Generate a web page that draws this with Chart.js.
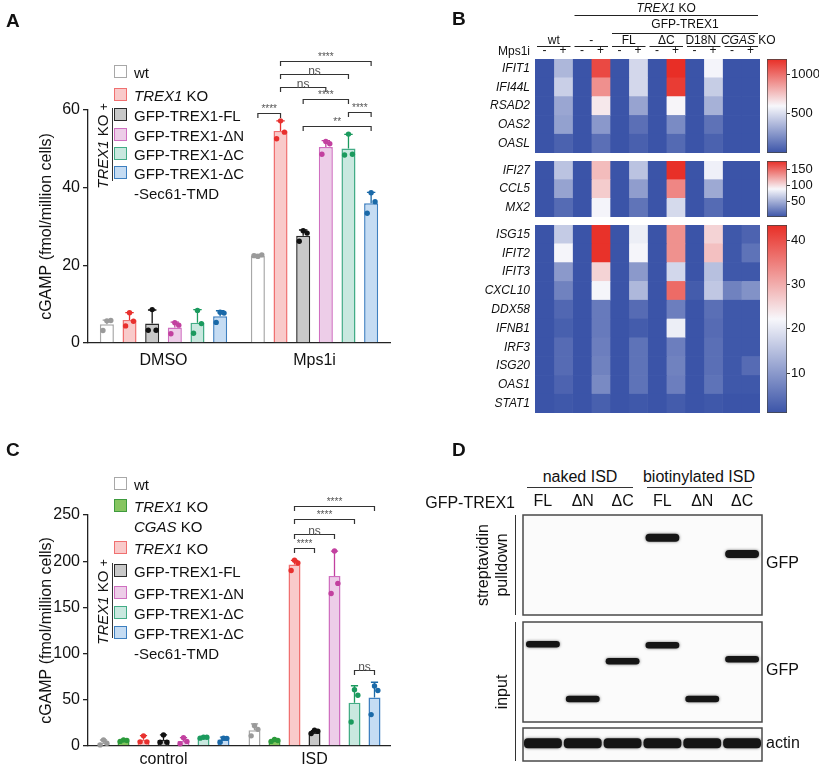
<!DOCTYPE html>
<html>
<head>
<meta charset="utf-8">
<script src="https://cdn.jsdelivr.net/npm/chart.js@4.4.1/dist/chart.umd.min.js"></script>
<style>
  html, body { margin: 0; background: #fff; }
  #fig { position: relative; width: 819px; height: 768px; overflow: hidden;
         font-family: "Liberation Sans", Arial, sans-serif; color: #111; }
  #fig canvas { position: absolute; }
  .t { position: absolute; line-height: 1; white-space: nowrap; }
  .ln { position: absolute; background: #333; }
</style>
</head>
<body>
<div id="fig">
  <canvas id="chartA" width="400" height="380" style="left:0;top:0"></canvas>
  <canvas id="chartC" width="400" height="388" style="left:0;top:380px"></canvas>
  <canvas id="heat1" width="419" height="155" style="left:400px;top:0"></canvas>
  <canvas id="heat2" width="360" height="60" style="left:400px;top:159px"></canvas>
  <canvas id="heat3" width="360" height="192" style="left:400px;top:223px"></canvas>
  <canvas id="cbar1" width="59" height="155" style="left:760px;top:0"></canvas>
  <canvas id="cbar2" width="59" height="60" style="left:760px;top:159px"></canvas>
  <canvas id="cbar3" width="59" height="192" style="left:760px;top:223px"></canvas>
  <canvas id="blotPull" width="419" height="127" style="left:400px;top:490px"></canvas>
  <canvas id="blotInput" width="419" height="108" style="left:400px;top:618px"></canvas>
  <canvas id="blotActin" width="419" height="41" style="left:400px;top:724px"></canvas>
</div>
<script>
/* ---------- data ---------- */
// A: cGAMP after DMSO / Mps1i
const groupsA = ['DMSO', 'Mps1i'];
const namesA = ['wt', 'TREX1 KO', 'GFP-TREX1-FL', 'GFP-TREX1-ΔN', 'GFP-TREX1-ΔC', 'GFP-TREX1-ΔC-Sec61-TMD'];
const legendA = [['wt'], ['<i>TREX1</i> KO'], ['GFP-TREX1-FL'], ['GFP-TREX1-ΔN'], ['GFP-TREX1-ΔC'], ['GFP-TREX1-ΔC', '-Sec61-TMD']];
const meanA = [[4.8, 22.4], [5.9, 54.6], [5.0, 27.6], [4.0, 50.5], [5.2, 50.1], [6.9, 36.0]];
const sdA = [[1.1, 0.4], [1.9, 2.6], [3.5, 1.5], [1.4, 1.6], [3.4, 3.6], [1.4, 2.8]];
const ptsA = [
  [[5.7, 5.8, 3.2], [22.3, 22.7, 22.5]],
  [[7.8, 5.6, 4.4], [57.2, 54.3, 52.6]],
  [[8.6, 3.3, 3.3], [28.9, 28.3, 26.2]],
  [[5.2, 4.6, 2.4], [51.9, 51.3, 48.6]],
  [[8.4, 5.0, 2.5], [53.8, 48.6, 48.4]],
  [[7.9, 7.7, 5.3], [38.7, 36.4, 33.4]],
];
// [series a, series b, level, mark] on the Mps1i group
const bracketsA = [[0, 1, 59.3, '****'], [1, 5, 72.7, '****'], [1, 4, 69.3, 'ns'], [1, 3, 66.0, 'ns'],
                   [2, 4, 62.9, '****'], [4, 5, 59.5, '****'], [2, 5, 55.9, '**']];

// C: cGAMP after control / ISD
const groupsC = ['control', 'ISD'];
const namesC = ['wt', 'TREX1 KO CGAS KO', 'TREX1 KO', 'GFP-TREX1-FL', 'GFP-TREX1-ΔN', 'GFP-TREX1-ΔC', 'GFP-TREX1-ΔC-Sec61-TMD'];
const legendC = [['wt'], ['<i>TREX1</i> KO', '<i>CGAS</i> KO'], ['<i>TREX1</i> KO'], ['GFP-TREX1-FL'], ['GFP-TREX1-ΔN'],
                 ['GFP-TREX1-ΔC'], ['GFP-TREX1-ΔC', '-Sec61-TMD']];
const meanC = [[3.5, 17], [5.8, 6], [6.7, 196.5], [6.5, 14.5], [5.5, 184], [9.2, 46.7], [7.0, 52.5]];
const sdC = [[3.0, 7], [0.8, 1], [4.5, 4.5], [5.5, 2], [3.5, 27], [0.6, 18.5], [2.5, 16.5]];
const ptsC = [
  [[6.5, 3.0, 1.2], [22, 18, 11]],
  [[6.5, 6.0, 5.0], [7, 6, 5]],
  [[11.0, 4.5, 4.5], [201, 198, 190]],
  [[12.0, 4.0, 4.0], [17, 16, 13.5]],
  [[9.0, 5.0, 2.5], [211, 176, 165]],
  [[9.5, 9.5, 8.5], [61, 55, 26]],
  [[8.5, 8.3, 4.0], [65, 60, 34]],
];
const bracketsC = [[2, 6, 260, '****'], [2, 5, 245.7, '****'], [2, 4, 229.5, 'ns'], [2, 3, 214.6, '****'], [5, 6, 82, 'ns']];

// B: heatmap (12 columns: condition x Mps1i -/+)
const heatCols = ['-', '+', '-', '+', '-', '+', '-', '+', '-', '+', '-', '+'];
const heatGroups = [[['wt']], [['-']], [['FL']], [['ΔC']], [['D18N']], [['CGAS', 1], [' KO']]];
const genes1 = ['IFIT1', 'IFI44L', 'RSAD2', 'OAS2', 'OASL'];
const heat1 = [
  [0, 360, 0, 1110, 0, 480, 0, 1190, 0, 585, 0, 0],
  [0, 450, 0, 900, 0, 480, 0, 1150, 0, 440, 0, 0],
  [0, 300, 0, 640, 0, 290, 0, 600, 0, 340, 0, 0],
  [0, 280, 0, 250, 0, 100, 0, 200, 0, 110, 0, 0],
  [0, 50, 0, 100, 0, 45, 0, 80, 0, 50, 0, 0],
];
const genes2 = ['IFI27', 'CCL5', 'MX2'];
const heat2 = [
  [0, 62, 0, 115, 0, 62, 0, 175, 0, 86, 0, 0],
  [0, 45, 0, 108, 0, 42, 0, 138, 0, 48, 0, 0],
  [0, 15, 0, 88, 0, 20, 0, 74, 0, 15, 0, 0],
];
const genes3 = ['ISG15', 'IFIT2', 'IFIT3', 'CXCL10', 'DDX58', 'IFNB1', 'IRF3', 'ISG20', 'OAS1', 'STAT1'];
const heat3 = [
  [1, 16.5, 1, 43, 1, 21, 1, 33, 1, 26, 1.5, 3],
  [1, 22, 1, 43, 1, 22, 1, 33, 1, 28, 1.5, 5],
  [1, 10, 1, 26, 1, 10, 1, 18, 1, 15, 1.5, 1.5],
  [1, 7, 1, 22, 1, 14, 1, 37, 2, 16, 7, 9],
  [1, 3.5, 1, 6, 1, 4, 1, 6.5, 1, 4.5, 1.5, 1.5],
  [1, 2.5, 1, 6, 1, 2, 1, 21, 1, 4, 1.5, 1.5],
  [1, 4, 1, 6.5, 1, 5, 1, 6.5, 1, 4.5, 1.5, 1.5],
  [1, 4, 1, 7, 1, 5, 1, 7, 1, 4.5, 1.5, 4],
  [1, 3, 1, 8, 1, 5, 1, 6.5, 1, 5, 1.5, 1.5],
  [1, 1.5, 1, 2.5, 1, 1.5, 1, 2, 1, 1.5, 1, 1],
];
const range1 = [0, 1190], range2 = [3, 176], range3 = [1, 43.4];
const cbTicks1 = [500, 1000], cbTicks2 = [50, 100, 150], cbTicks3 = [10, 20, 30, 40];

// D: blot lanes and band positions (% of blot height from top)
const lanes = ['FL', 'ΔN', 'ΔC', 'FL', 'ΔN', 'ΔC'];
const pulldownBands = [null, null, null, 22.7, null, 39];
const inputBands = [22.3, 77, 39.3, 23.3, 77, 37.3];
const actinBands = [46, 46, 46, 46, 46, 46];

/* ---------- styles ---------- */
const FONT = '"Liberation Sans", Arial, sans-serif';
Chart.defaults.font.family = FONT;
Chart.defaults.color = '#111';

const fillsA = ['#ffffff', '#f9caca', '#c8c8c8', '#edcde8', '#c9e8df', '#c5dcf3'];
const edgesA = ['#a8a8a8', '#f07070', '#2a2a2a', '#cf6fc0', '#43ac86', '#3d7fc0'];
const dotsA = ['#9a9a9a', '#e8302e', '#111111', '#c2409f', '#1b9a5e', '#1a69a8'];
const fillsC = ['#ffffff', '#86c560', ...fillsA.slice(1)];
const edgesC = ['#a8a8a8', '#3e9a3e', ...edgesA.slice(1)];
const dotsC = ['#9a9a9a', '#2a9a3a', ...dotsA.slice(1)];
const JIT = [0, 0.28, -0.28];
const GROUP_NUDGE = [0, 0, 0, 0, -3, 7];   // header label x shifts (px)

const BLUE = [59, 84, 168], WHITE = [247, 247, 251], RED = [232, 46, 38];
const rgb = c => `rgb(${c.map(Math.round).join(',')})`;
function heatColor(v, lo, hi) {
  const t = Math.max(0, Math.min(1, (v - lo) / (hi - lo)));
  const [a, b, u] = t < 0.5 ? [BLUE, WHITE, t / 0.5] : [WHITE, RED, (t - 0.5) / 0.5];
  return rgb(a.map((x, k) => x + (b[k] - x) * u));
}
// keep tick labels from eating into the plot area
const noLabelPad = s => { s.paddingTop = 0; s.paddingBottom = 0; s.paddingLeft = 0; s.paddingRight = 0; };

/* ---------- bar panels (A, C) ---------- */
function errorDots(o) {
  return {
    id: 'errorDots',
    afterDatasetsDraw(chart) {
      const { ctx, scales: { y } } = chart;
      ctx.save();
      ctx.lineWidth = 1.3;
      o.means.forEach((row, i) => {
        const meta = chart.getDatasetMeta(i);
        ctx.strokeStyle = ctx.fillStyle = o.dots[i];
        row.forEach((m, j) => {
          const { x, width } = meta.data[j];
          const y0 = y.getPixelForValue(m), y1 = y.getPixelForValue(m + o.sds[i][j]);
          ctx.beginPath();
          ctx.moveTo(x, y0); ctx.lineTo(x, y1);
          ctx.moveTo(x - width * 0.3, y1); ctx.lineTo(x + width * 0.3, y1);
          ctx.stroke();
          o.pts[i][j].forEach((v, k) => {
            ctx.beginPath();
            ctx.arc(x + JIT[k] * width, y.getPixelForValue(v), 2.7, 0, Math.PI * 2);
            ctx.fill();
          });
        });
      });
      ctx.restore();
    },
  };
}

// significance brackets between two bars of the second group
function sigBrackets(o) {
  return {
    id: 'sigBrackets',
    afterDraw(chart) {
      const { ctx, scales: { y } } = chart;
      ctx.save();
      ctx.strokeStyle = '#333'; ctx.lineWidth = 1.2; ctx.fillStyle = '#555';
      ctx.textAlign = 'center'; ctx.textBaseline = 'alphabetic';
      o.brackets.forEach(([a, b, level, mark]) => {
        const xa = chart.getDatasetMeta(a).data[1].x, xb = chart.getDatasetMeta(b).data[1].x;
        const yy = Math.round(y.getPixelForValue(level)) + 0.5;
        ctx.beginPath();
        ctx.moveTo(xa, yy + 4.5); ctx.lineTo(xa, yy); ctx.lineTo(xb, yy); ctx.lineTo(xb, yy + 4.5);
        ctx.stroke();
        const ns = mark === 'ns';
        ctx.font = (ns ? '12px ' : '10px ') + FONT;
        ctx.fillText(mark, (xa + xb) / 2, ns ? yy : yy - 2);
      });
      ctx.restore();
    },
  };
}

function barPanel(id, o) {
  return new Chart(document.getElementById(id), {
    type: 'bar',
    data: {
      labels: o.groups,
      datasets: o.means.map((m, i) => ({
        label: o.names[i], data: m,
        backgroundColor: o.fills[i], borderColor: o.edges[i], borderWidth: 1.5,
        barPercentage: o.barPct, categoryPercentage: o.catPct,
      })),
    },
    options: {
      responsive: false, animation: false,
      layout: { padding: { left: 37, right: 10, top: o.top, bottom: 0 } },
      plugins: { legend: { display: false }, tooltip: { enabled: false } },
      scales: {
        x: {
          grid: { display: false, drawTicks: false }, border: { color: '#222', width: 1.3 },
          ticks: { font: { size: 16 }, padding: o.xPad },
          afterFit: s => { s.height = o.xH; },
        },
        y: {
          min: 0, max: o.yMax,
          ticks: { stepSize: o.yStep, font: { size: 16 }, padding: 3 },
          grid: { drawOnChartArea: false, tickLength: 5, color: '#222', lineWidth: 1.3 },
          border: { color: '#222', width: 1.3 },
          title: { display: true, text: 'cGAMP (fmol/million cells)', font: { size: 16 }, padding: 0 },
          afterFit: s => { s.width = 51; },
        },
      },
    },
    plugins: [errorDots(o), sigBrackets(o)],
  });
}

barPanel('chartA', {
  groups: groupsA, names: namesA, means: meanA, sds: sdA, pts: ptsA, brackets: bracketsA,
  fills: fillsA, edges: edgesA, dots: dotsA,
  barPct: 0.62, catPct: 0.9, top: 110, xH: 37, xPad: 8, yMax: 60, yStep: 20,
});
barPanel('chartC', {
  groups: groupsC, names: namesC, means: meanC, sds: sdC, pts: ptsC, brackets: bracketsC,
  fills: fillsC, edges: edgesC, dots: dotsC,
  barPct: 0.6, catPct: 0.927, top: 135, xH: 22, xPad: 4, yMax: 250, yStep: 50,
});

/* ---------- heatmap (B) ---------- */
function richText(ctx, parts, cx, cy, size) {
  const fonts = parts.map(([, it]) => `${it ? 'italic ' : ''}${size}px ${FONT}`);
  const widths = parts.map(([t], k) => { ctx.font = fonts[k]; return ctx.measureText(t).width; });
  let x = cx - widths.reduce((a, b) => a + b, 0) / 2;
  ctx.textAlign = 'left'; ctx.textBaseline = 'middle';
  parts.forEach(([t], k) => { ctx.font = fonts[k]; ctx.fillText(t, x, cy); x += widths[k]; });
}

// column group labels and the TREX1 KO / GFP-TREX1 spans above the first block
const heatHeader = {
  id: 'heatHeader',
  afterDraw(chart) {
    const { ctx, chartArea: { top, left }, scales: { x } } = chart;
    ctx.save();
    ctx.strokeStyle = '#222'; ctx.lineWidth = 1; ctx.fillStyle = '#111';
    const span = (c0, c1, yText, yLine, parts, dx = 0) => {
      const x0 = x.getPixelForValue(c0) + 2, x1 = x.getPixelForValue(c1) - 2;
      ctx.beginPath(); ctx.moveTo(x0, yLine); ctx.lineTo(x1, yLine); ctx.stroke();
      richText(ctx, parts, (x0 + x1) / 2 + dx, yText, 12);
    };
    heatGroups.forEach((g, k) => span(2 * k, 2 * k + 2, top - 18, top - 12.5, g, GROUP_NUDGE[k]));
    span(4, 12, top - 34, top - 25.5, [['GFP-TREX1']]);
    span(2, 12, top - 50, top - 43.5, [['TREX1', 1], [' KO']]);
    ctx.textAlign = 'right'; ctx.textBaseline = 'middle'; ctx.font = '12px ' + FONT;
    ctx.fillText('Mps1i', left - 5, top - 7);
    ctx.restore();
  },
};

function heatmap(id, genes, values, [lo, hi], pad, header) {
  return new Chart(document.getElementById(id), {
    type: 'bar',
    data: {
      labels: genes,
      datasets: heatCols.map((c, j) => ({
        data: genes.map(() => [j, j + 1]),
        backgroundColor: values.map(row => heatColor(row[j], lo, hi)),
        borderWidth: 0, barPercentage: 1, categoryPercentage: 1, grouped: false,
      })),
    },
    options: {
      indexAxis: 'y', responsive: false, animation: false,
      layout: { padding: pad, autoPadding: false },
      plugins: { legend: { display: false }, tooltip: { enabled: false } },
      scales: {
        x: {
          type: 'linear', min: 0, max: heatCols.length, display: header, position: 'top',
          grid: { display: false, drawTicks: false }, border: { display: false },
          ticks: { font: { size: 12 }, padding: 1, callback: (v, i) => heatCols[i] },
          afterBuildTicks: s => { s.ticks = heatCols.map((c, i) => ({ value: i + 0.5 })); },
          afterFit: s => { noLabelPad(s); if (header) s.height = 14; },
        },
        y: {
          grid: { display: false, drawTicks: false }, border: { display: false },
          ticks: { font: { size: 12, style: 'italic' }, padding: 5, autoSkip: false },
          afterFit: s => { noLabelPad(s); s.width = 135; },
        },
      },
    },
    plugins: header ? [heatHeader] : [],
  });
}

heatmap('heat1', genes1, heat1, range1, { left: 0, right: 59, top: 45, bottom: 2 }, true);
heatmap('heat2', genes2, heat2, range2, { left: 0, right: 0, top: 2, bottom: 2 }, false);
heatmap('heat3', genes3, heat3, range3, { left: 0, right: 0, top: 2, bottom: 2 }, false);

function colorbar(id, [lo, hi], ticks, pad) {
  return new Chart(document.getElementById(id), {
    type: 'bar',
    data: {
      labels: [''],
      datasets: [{
        data: [[lo, hi]],
        backgroundColor: c => {
          const a = c.chart.chartArea;
          if (!a) return heatColor(lo, lo, hi);
          const g = c.chart.ctx.createLinearGradient(0, a.bottom, 0, a.top);
          g.addColorStop(0, rgb(BLUE)); g.addColorStop(0.5, rgb(WHITE)); g.addColorStop(1, rgb(RED));
          return g;
        },
        borderColor: '#444', borderWidth: 1, borderSkipped: false,
        barPercentage: 1, categoryPercentage: 1,
      }],
    },
    options: {
      responsive: false, animation: false,
      layout: { padding: { left: 7, right: 0, top: pad[0], bottom: pad[1] }, autoPadding: false },
      plugins: { legend: { display: false }, tooltip: { enabled: false } },
      scales: {
        x: { display: false, afterFit: noLabelPad },
        y: {
          position: 'right', min: lo, max: hi,
          grid: { drawOnChartArea: false, tickLength: 3, color: '#333' }, border: { display: false },
          ticks: { font: { size: 13 }, padding: 1, callback: v => String(v) },
          afterBuildTicks: s => { s.ticks = ticks.map(v => ({ value: v })); },
          afterFit: s => { noLabelPad(s); s.width = 32; },
        },
      },
    },
  });
}

colorbar('cbar1', range1, cbTicks1, [59, 2]);
colorbar('cbar2', range2, cbTicks2, [2, 2]);
colorbar('cbar3', range3, cbTicks3, [2, 2]);

/* ---------- blot (D) ---------- */
const blotFrame = {
  id: 'blotFrame',
  beforeDatasetsDraw(chart) {
    const { ctx, chartArea: a } = chart;
    ctx.fillStyle = '#fbfbfb'; ctx.fillRect(a.left, a.top, a.width, a.height);
    ctx.save(); ctx.shadowColor = 'rgba(0,0,0,0.55)'; ctx.shadowBlur = 3;
  },
  afterDatasetsDraw(chart) {
    const { ctx, chartArea: a } = chart;
    ctx.restore();
    ctx.save();
    ctx.strokeStyle = '#4a4a4a'; ctx.lineWidth = 1.5; ctx.strokeRect(a.left, a.top, a.width, a.height);
    ctx.restore();
  },
};

function blot(id, bands, half, o) {
  return new Chart(document.getElementById(id), {
    type: 'bar',
    data: {
      labels: lanes,
      datasets: [{
        data: bands.map(p => (p == null ? null : [p - half, p + half])),
        backgroundColor: '#151515', borderRadius: 4, borderSkipped: false,
        barPercentage: o.bw, categoryPercentage: 1,
      }],
    },
    options: {
      responsive: false, animation: false,
      layout: { padding: { left: 123, right: 57, top: o.top, bottom: o.bottom }, autoPadding: false },
      plugins: { legend: { display: false }, tooltip: { enabled: false } },
      scales: {
        x: {
          display: !!o.header, position: 'top',
          grid: { display: false, drawTicks: false }, border: { display: false },
          ticks: { font: { size: 16 }, padding: 4 },
          afterFit: s => { if (o.header) s.height = 25; },
        },
        y: { display: false, reverse: true, min: 0, max: 100 },
      },
    },
    plugins: [blotFrame],
  });
}

blot('blotPull', pulldownBands, 4, { bw: 0.85, top: 0, bottom: 2, header: true });
blot('blotInput', inputBands, 3.3, { bw: 0.85, top: 4, bottom: 4 });
blot('blotActin', actinBands, 15, { bw: 0.95, top: 4, bottom: 4 });

/* ---------- text, legends, labels ---------- */
const fig = document.getElementById('fig');
function text(x, y, html, size, anchor = 'l', extra = '') {
  const d = document.createElement('div');
  d.className = 't'; d.innerHTML = html;
  d.style.left = x + 'px'; d.style.top = y + 'px'; d.style.fontSize = size + 'px';
  d.style.transform = `translate(${{ l: '0', c: '-50%', r: '-100%' }[anchor]},-50%) ${extra}`;
  fig.appendChild(d);
}
function line(x, y, w, h) {
  const d = document.createElement('div');
  d.className = 'ln';
  d.style.cssText += `left:${x}px;top:${y}px;width:${w}px;height:${h}px`;
  fig.appendChild(d);
}
function legendBlock(rows, ys, fills, edges) {
  rows.forEach((lines, i) => {
    const b = document.createElement('div');
    b.style.cssText = `position:absolute;left:114px;top:${ys[i] - 7}px;width:11px;height:11px;` +
      `background:${fills[i]};border:1.5px solid ${edges[i]}`;
    fig.appendChild(b);
    lines.forEach((t, k) => text(134, ys[i] + k * 19.5, t, 15));
  });
}

// panel letters
text(6, 20, '<b>A</b>', 19);
text(452, 18, '<b>B</b>', 19);
text(6, 449, '<b>C</b>', 19);
text(452, 449, '<b>D</b>', 19);

// A legend
legendBlock(legendA, [72, 95, 115, 135, 154, 173], fillsA, edgesA);
text(102, 146, '<i>TREX1</i> KO <span style="font-size:12px">+</span>', 15, 'c', 'rotate(-90deg)');
line(112, 108, 1.3, 73);

// C legend
legendBlock(legendC, [484, 506, 548, 571, 593, 613, 633], fillsC, edgesC);
text(102, 602, '<i>TREX1</i> KO <span style="font-size:12px">+</span>', 15, 'c', 'rotate(-90deg)');
line(112, 563, 1.3, 75);

// D labels
text(580, 477, 'naked ISD', 16, 'c');
text(699, 477, 'biotinylated ISD', 16, 'c');
line(527, 487, 106, 1.2);
line(647, 487, 105, 1.2);
text(515, 503, 'GFP-TREX1', 16, 'r');
text(766, 563, 'GFP', 16);
text(766, 670, 'GFP', 16);
text(766, 743, 'actin', 16);
text(483, 565, 'streptavidin', 16, 'c', 'rotate(-90deg)');
text(502, 565, 'pulldown', 16, 'c', 'rotate(-90deg)');
text(502, 692, 'input', 16, 'c', 'rotate(-90deg)');
line(515, 515, 1.3, 100);
line(515, 622, 1.3, 139);
</script>
</body>
</html>
